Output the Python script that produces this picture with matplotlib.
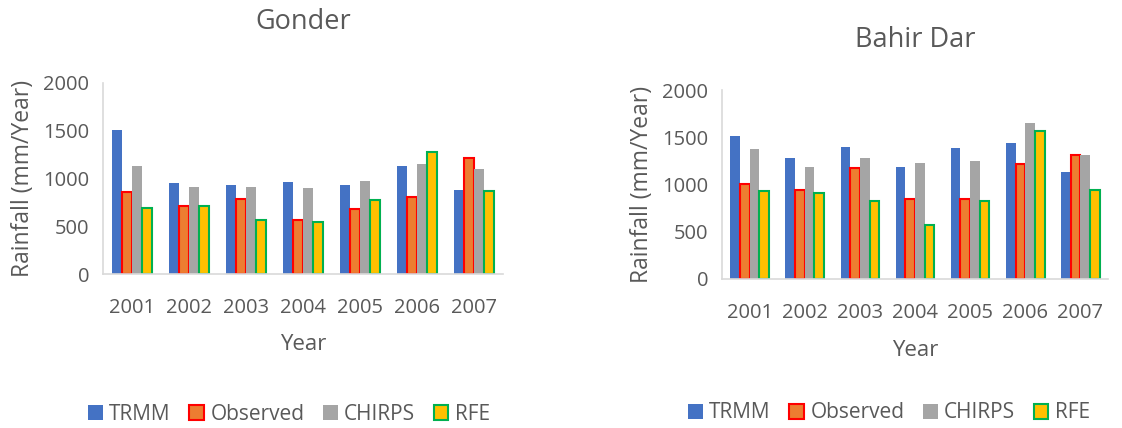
import numpy as np
from matplotlib import pyplot as plt

plt.rcParams['font.family'] = ['Open Sans', 'DejaVu Sans']

years = ['2001', '2002', '2003', '2004', '2005', '2006', '2007']
series = ['TRMM', 'Observed', 'CHIRPS', 'RFE']

# Gonder
gon_trmm = [1510, 954, 937, 968, 937, 1126, 881]
gon_obs = [860, 712, 786, 568, 677, 807, 1210]
gon_chirps = [1133, 912, 916, 905, 972, 1147, 1098]
gon_rfe = [688, 712, 561, 540, 775, 1277, 870]

# Bahir Dar
bd_trmm = [1510, 1277, 1393, 1182, 1383, 1443, 1136]
bd_obs = [1009, 938, 1178, 850, 850, 1220, 1312]
bd_chirps = [1376, 1185, 1284, 1224, 1245, 1654, 1309]
bd_rfe = [935, 914, 829, 568, 829, 1566, 945]

faces = ['#4472C4', '#ED7D31', '#A5A5A5', '#FFC000']
edges = ['#4472C4', '#FF0000', '#A5A5A5', '#00B050']
lws = [0, 1.5, 0, 1.5]
txt = '#595959'

fig = plt.figure(figsize=(11.22, 4.28), dpi=100)
W, H = 1122, 428

def panel(rect, title, data, title_y, xlab_y, leg_x, leg_y):
    l, t, r, b = rect
    ax = fig.add_axes([l / W, 1 - b / H, (r - l) / W, (b - t) / H])
    x = np.arange(len(years))
    w = 0.175
    for i, vals in enumerate(data):
        ax.bar(x + (i - 1.5) * w, vals, w, color=faces[i], edgecolor=edges[i],
               linewidth=lws[i], label=series[i])
    ax.set_xlim(-0.5, 6.5)
    ax.set_ylim(0, 2000)
    ax.set_yticks([0, 500, 1000, 1500, 2000])
    ax.set_xticks(x)
    ax.set_xticklabels(years)
    ax.tick_params(length=0, labelsize=14.5, colors=txt, pad=17)
    ax.tick_params(axis='y', pad=10)
    for s in ['top', 'right']:
        ax.spines[s].set_visible(False)
    for s in ['left', 'bottom']:
        ax.spines[s].set_color('#D9D9D9')
        ax.spines[s].set_linewidth(1.2)
    ax.set_ylabel('Rainfall (mm/Year)', fontsize=16.5, color=txt, labelpad=6)
    ax.set_xlabel('Year', fontsize=16, color=txt, va='center')
    ax.xaxis.set_label_coords(0.5, 1 - (xlab_y - t) / (b - t))
    fig.text((l + r) / 2 / W, 1 - title_y / H, title, ha='center', va='center',
             fontsize=19.5, color=txt)
    ax.legend(loc='center', bbox_to_anchor=((leg_x - l) / (r - l), 1 - (leg_y - t) / (b - t)),
              ncol=4, frameon=False, fontsize=15, handlelength=0.7, handleheight=0.7,
              columnspacing=0.9, handletextpad=0.3, labelcolor=txt)
    return ax

panel((103, 83, 503, 274), 'Gonder',
      [gon_trmm, gon_obs, gon_chirps, gon_rfe], 22, 345, 289, 414)
panel((722, 90, 1108, 279), 'Bahir Dar',
      [bd_trmm, bd_obs, bd_chirps, bd_rfe], 40, 350, 889, 413)

fig.savefig('out.png', dpi=100)
